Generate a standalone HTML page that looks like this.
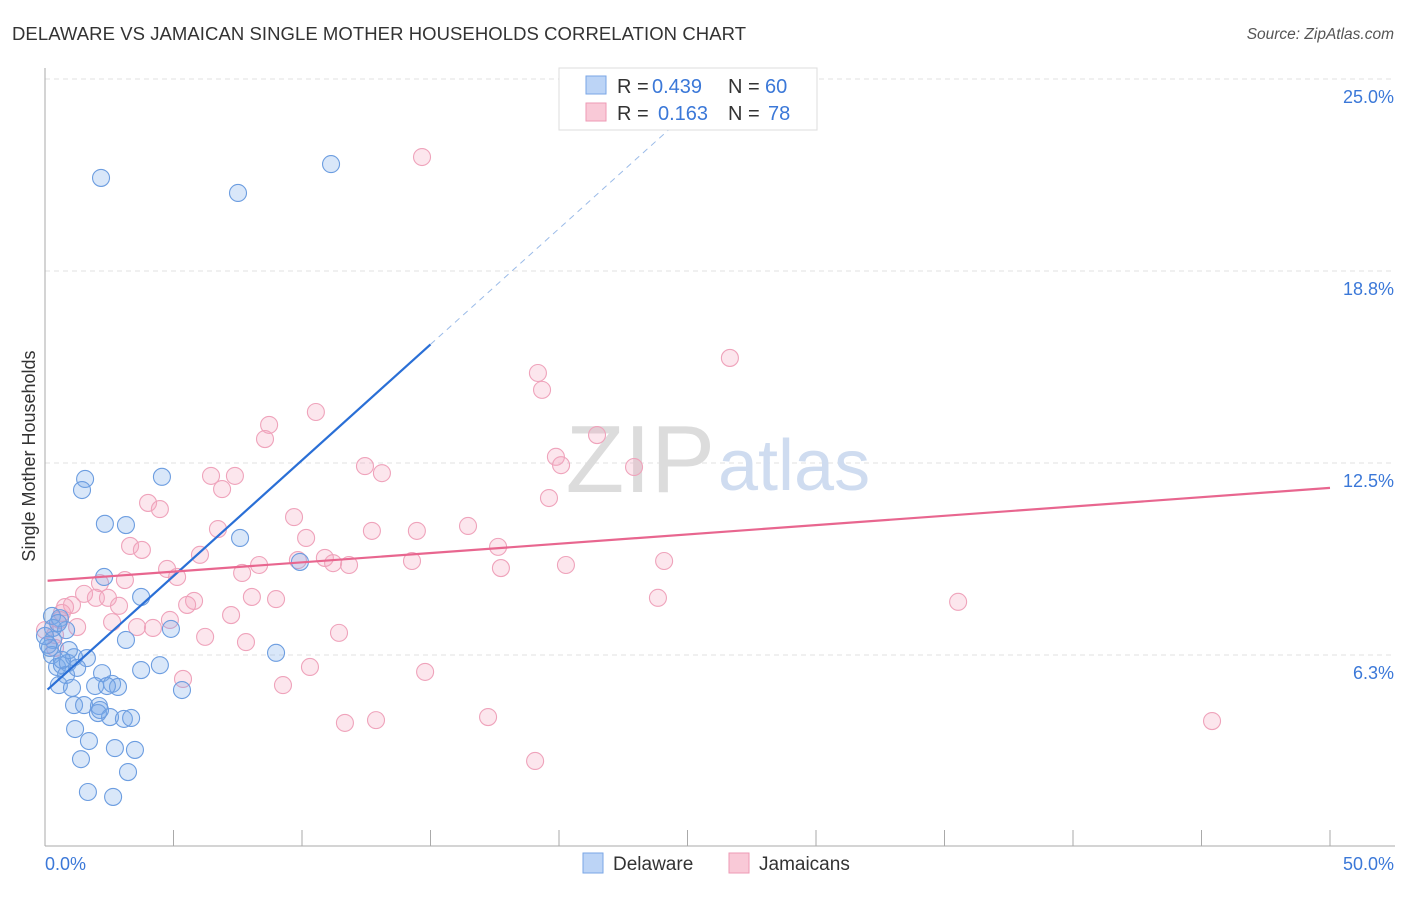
<!DOCTYPE html>
<html><head><meta charset="utf-8"><style>
body{margin:0;background:#fff;font-family:"Liberation Sans",sans-serif;}
svg text{font-family:"Liberation Sans",sans-serif;}
</style></head><body>
<svg id="chart" width="1406" height="892">
<text x="12" y="40" font-size="18.5" fill="#333" textLength="734">DELAWARE VS JAMAICAN SINGLE MOTHER HOUSEHOLDS CORRELATION CHART</text>
<text x="1394" y="39" font-size="15.5" fill="#555" font-style="italic" text-anchor="end">Source: ZipAtlas.com</text>
<g id="grid"></g>
<text x="715" y="492" font-size="96" fill="#dcdcdc" font-family="Liberation Serif" text-anchor="end">ZIP</text>
<text x="718" y="490" font-size="72" fill="#cfdcf0">atlas</text>
<g id="pts"></g>
<g id="lines"></g>
<text x="35" y="456" font-size="18" fill="#333" text-anchor="middle" transform="rotate(-90 35 456)">Single Mother Households</text>
<text x="45" y="870" font-size="18" fill="#3b78d8">0.0%</text>
<text x="1394" y="870" font-size="18" fill="#3b78d8" text-anchor="end">50.0%</text>
<g>
<rect x="559" y="68" width="258" height="62" fill="#fff" stroke="#ddd"/>
<rect x="586" y="76" width="20" height="18" fill="#bcd4f6" stroke="#7aa6e6"/>
<rect x="586" y="103" width="20" height="18" fill="#f9c9d7" stroke="#ee9ab4"/>
<text y="93" font-size="20" fill="#333"><tspan x="617">R =</tspan><tspan x="652" fill="#3b78d8">0.439</tspan><tspan x="728">N =</tspan><tspan x="765" fill="#3b78d8">60</tspan></text>
<text y="120" font-size="20" fill="#333"><tspan x="617">R =</tspan><tspan x="658" fill="#3b78d8">0.163</tspan><tspan x="728">N =</tspan><tspan x="768" fill="#3b78d8">78</tspan></text>
</g>
<g>
<rect x="583" y="853" width="20" height="20" fill="#bcd4f6" stroke="#7aa6e6"/>
<text x="613" y="870" font-size="19" fill="#333">Delaware</text>
<rect x="729" y="853" width="20" height="20" fill="#f9c9d7" stroke="#ee9ab4"/>
<text x="759" y="870" font-size="19" fill="#333">Jamaicans</text>
</g>
</svg>
<script>
const yTicks=[6.25,12.5,18.75,25];
const yTickLabels=["6.3%","12.5%","18.8%","25.0%"];
const xTickCount=10;
const blueX=[2.18,7.51,11.13,1.56,1.44,4.55,2.33,3.15,7.59,2.30,3.74,9.92,4.90,3.15,8.99,0.27,0.58,0.82,0.31,0.19,0.27,0.47,0.66,0.89,1.13,1.63,0.82,0.54,1.05,2.22,1.95,2.61,2.84,3.74,4.47,5.33,1.13,1.52,2.10,2.06,2.53,3.07,3.35,1.17,1.71,2.72,3.50,1.40,3.23,1.67,2.65,0.31,0.12,0.51,0.93,0,1.25,0.66,2.41,2.14];
const blueY=[21.78,21.29,22.23,11.98,11.62,12.05,10.52,10.48,10.06,8.79,8.14,9.28,7.10,6.74,6.32,7.52,7.45,7.06,6.74,6.48,6.25,5.86,5.92,5.99,6.18,6.15,5.60,5.27,5.18,5.66,5.24,5.31,5.21,5.76,5.92,5.11,4.62,4.62,4.59,4.36,4.23,4.17,4.20,3.84,3.45,3.22,3.16,2.86,2.44,1.79,1.63,7.13,6.58,7.29,6.41,6.87,5.83,6.09,5.24,4.46];
const pinkX=[14.67,26.65,19.18,19.34,10.54,8.72,8.56,21.48,19.88,20.08,22.92,12.45,13.11,6.46,7.39,6.89,4.01,4.47,19.61,9.69,6.73,12.72,14.47,16.46,10.16,3.31,3.77,17.63,6.03,10.89,9.84,11.21,11.83,14.28,24.09,20.27,17.74,8.33,4.75,5.14,7.67,3.11,2.14,1.52,1.98,2.45,2.88,5.80,5.53,8.05,8.99,23.85,35.53,0.78,1.05,0.66,1.25,2.61,3.58,4.20,7.24,4.86,6.23,7.82,11.44,0.39,10.31,14.79,5.37,9.26,11.67,12.88,17.24,45.41,19.07,0.39,0.58,0];
const pinkY=[22.46,15.92,15.43,14.88,14.16,13.74,13.28,13.41,12.70,12.43,12.37,12.40,12.17,12.08,12.08,11.65,11.20,11.00,11.36,10.74,10.35,10.29,10.29,10.45,10.06,9.80,9.67,9.77,9.51,9.41,9.34,9.24,9.18,9.31,9.31,9.18,9.08,9.18,9.05,8.79,8.92,8.69,8.59,8.24,8.11,8.11,7.85,8.01,7.88,8.14,8.07,8.11,7.98,7.81,7.88,7.62,7.16,7.32,7.16,7.13,7.55,7.39,6.84,6.67,6.97,6.48,5.86,5.70,5.47,5.27,4.04,4.13,4.23,4.10,2.80,6.90,7.39,7.06];
const blueTrend=[5.05,0.754];
const pinkTrend=[8.66,0.0606];
const NS="http://www.w3.org/2000/svg";
const X=v=>45+v*25.7, Y=v=>847-v*30.72;
function mk(t,a,p){const e=document.createElementNS(NS,t);for(const k in a)e.setAttribute(k,a[k]);p.appendChild(e);return e;}
const grid=document.getElementById('grid');
yTicks.forEach((t,i)=>{
 const l=mk('line',{x1:45,x2:1395,y1:Y(t),y2:Y(t),stroke:'#e0e0e0','stroke-dasharray':'5,4'},grid);
 
 
 const tx=mk('text',{x:1394,y:Y(t)+24,'font-size':18,fill:'#3b78d8','text-anchor':'end'},grid);
 tx.textContent=yTickLabels[i];
 
 
});
mk('line',{x1:45,x2:45,y1:68,y2:846,stroke:'#aaa'},grid);
mk('line',{x1:45,x2:1395,y1:846,y2:846,stroke:'#aaa'},grid);
for(let i=0;i<=xTickCount;i++){const x=X(i*50/xTickCount);const t=mk('line',{x1:x,x2:x,y1:830,y2:846,stroke:'#aaa'},grid);
 
 }
const pts=document.getElementById('pts');
pinkX.forEach((x,i)=>{const c=mk('circle',{cx:X(x),cy:Y(pinkY[i]),r:8.5,fill:'rgba(245,165,190,0.28)',stroke:'#efa3bb','stroke-width':1.1},pts);
 
 });
blueX.forEach((x,i)=>{const c=mk('circle',{cx:X(x),cy:Y(blueY[i]),r:8.5,fill:'rgba(120,170,235,0.28)',stroke:'#6c9de0','stroke-width':1.1},pts);
 
 });
const lines=document.getElementById('lines');
const bl=mk('line',{x1:X(0.1),y1:Y(blueTrend[0]+blueTrend[1]*0.1),x2:X(15),y2:Y(blueTrend[0]+blueTrend[1]*15),stroke:'#2a6fd6','stroke-width':2.2},lines);


const xe=(25-blueTrend[0])/blueTrend[1];
const bd=mk('line',{x1:X(15),y1:Y(blueTrend[0]+blueTrend[1]*15),x2:X(xe),y2:Y(25),stroke:'#9bbbe8','stroke-width':1,'stroke-dasharray':'6,5'},lines);


const pl=mk('line',{x1:X(0.1),y1:Y(pinkTrend[0]+pinkTrend[1]*0.1),x2:X(50),y2:Y(pinkTrend[0]+pinkTrend[1]*50),stroke:'#e8668f','stroke-width':2.2},lines);


</script>
</body></html>
